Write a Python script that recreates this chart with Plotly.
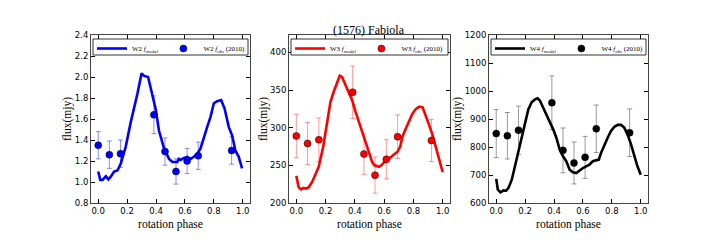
import plotly.graph_objects as go

# ---------------- data ----------------
obs_phase = [0.0, 0.077, 0.154, 0.385, 0.462, 0.538, 0.615, 0.692, 0.923]

w2_obs = [1.35, 1.26, 1.27, 1.64, 1.29, 1.10, 1.20, 1.25, 1.30]
w2_err = [0.13, 0.13, 0.13, 0.18, 0.13, 0.12, 0.12, 0.13, 0.13]
w3_obs = [289, 279, 284, 347, 265, 237, 258, 288, 283]
w3_err = [29, 28, 29, 35, 27, 24, 26, 29, 28]
w4_obs = [848, 840, 860, 958, 788, 743, 763, 865, 851]
w4_err = [86, 83, 86, 96, 80, 75, 75, 85, 85]

w2_model_phase = [0.0, 0.014, 0.03, 0.053, 0.07, 0.087, 0.11, 0.133, 0.156, 0.19, 0.225,
                  0.248, 0.271, 0.30, 0.317, 0.345, 0.375, 0.398, 0.42, 0.455, 0.49,
                  0.513, 0.547, 0.558, 0.57, 0.593, 0.616, 0.639, 0.662, 0.685, 0.708,
                  0.731, 0.754, 0.777, 0.80, 0.823, 0.85, 0.874, 0.903, 0.926, 0.949,
                  0.972, 0.995]
w2_model = [1.10, 1.02, 1.02, 1.055, 1.025, 1.05, 1.10, 1.11, 1.175, 1.335, 1.57,
            1.70, 1.84, 2.035, 2.01, 2.00, 1.84, 1.69, 1.49, 1.32, 1.22,
            1.19, 1.19, 1.22, 1.21, 1.23, 1.24, 1.22, 1.24, 1.27, 1.32,
            1.43, 1.525, 1.62, 1.75, 1.77, 1.78, 1.70, 1.525, 1.445, 1.30,
            1.24, 1.13]

w3_model_phase = [0.0, 0.016, 0.034, 0.05, 0.066, 0.085, 0.108, 0.13, 0.153, 0.183,
                  0.21, 0.233, 0.256, 0.279, 0.297, 0.313, 0.336, 0.359, 0.382, 0.405,
                  0.428, 0.451, 0.474, 0.497, 0.519, 0.535, 0.554, 0.565, 0.581, 0.6,
                  0.622, 0.645, 0.668, 0.691, 0.71, 0.725, 0.748, 0.771, 0.794, 0.817,
                  0.84, 0.863, 0.886, 0.908, 0.931, 0.954, 0.977, 1.0]
w3_model = [236, 221, 218, 220, 219, 221, 228, 238, 248, 274,
            310, 334, 348, 361, 369, 367, 356, 347, 336, 321,
            308, 292, 279, 266, 254, 250, 249, 248, 250, 254,
            257, 261, 265, 268, 275, 288, 299, 308, 319, 325,
            328, 327, 316, 303, 290, 274, 257, 241]

w4_model_phase = [0.0, 0.011, 0.03, 0.05, 0.069, 0.085, 0.108, 0.13, 0.153, 0.176,
                  0.2, 0.222, 0.245, 0.268, 0.286, 0.302, 0.325, 0.348, 0.37, 0.394,
                  0.416, 0.439, 0.462, 0.485, 0.508, 0.531, 0.554, 0.577, 0.6, 0.622,
                  0.645, 0.668, 0.691, 0.71, 0.725, 0.748, 0.771, 0.794, 0.817, 0.84,
                  0.863, 0.886, 0.908, 0.931, 0.954, 0.977, 1.0]
w4_model = [686, 648, 638, 645, 644, 654, 684, 731, 791, 839,
            886, 934, 960, 970, 974, 966, 940, 916, 892, 863,
            833, 791, 767, 749, 719, 710, 707, 717, 725, 731,
            737, 749, 752, 755, 779, 809, 833, 857, 872, 879,
            879, 869, 845, 812, 767, 731, 701]

bands = ["W2", "W3", "W4"]
title_text = "(1576) Fabiola"
x_label = "rotation phase"
y_label = "flux(mjy)"

# ---------------- layout helpers ----------------
W, H = 720, 240
x_px = [(91, 250), (289, 450), (489, 648)]
y_top, y_bot = 35, 203
ydom = [1 - y_bot / H, 1 - y_top / H]
yranges = [[0.8, 2.4], [200, 423], [600, 1200]]
ydticks = [0.2, 50, 100]
yfmt = [".1f", "d", "d"]

colors = ["#0000ff", "#ff0000", "#000000"]
err_colors = ["rgba(0,0,255,0.45)", "rgba(255,0,0,0.4)", "rgba(0,0,0,0.4)"]

model_phases = [w2_model_phase, w3_model_phase, w4_model_phase]
models = [w2_model, w3_model, w4_model]
obs = [w2_obs, w3_obs, w4_obs]
errs = [w2_err, w3_err, w4_err]

serif = "Liberation Serif, Times New Roman, serif"
sans = "DejaVu Sans, sans-serif"

fig = go.Figure()
legend_names = ["legend", "legend2", "legend3"]

for i in range(3):
    ax = "" if i == 0 else str(i + 1)
    fig.add_trace(go.Scatter(
        x=model_phases[i], y=models[i], mode="lines",
        line=dict(color=colors[i], width=2.6),
        name=f"{bands[i]} <i>f<sub>model</sub></i>",
        xaxis="x" + ax, yaxis="y" + ax, legend=legend_names[i]))
    fig.add_trace(go.Scatter(
        x=obs_phase, y=obs[i], mode="markers",
        marker=dict(color=colors[i], size=7, line=dict(color="black", width=0.5)),
        error_y=dict(type="data", array=errs[i], color=err_colors[i], thickness=1, width=2.5),
        name=f"{bands[i]} <i>f<sub>obs</sub></i> (2010)",
        xaxis="x" + ax, yaxis="y" + ax, legend=legend_names[i]))

layout = dict(
    width=W, height=H,
    margin=dict(l=0, r=0, t=0, b=0, autoexpand=False),
    paper_bgcolor="white", plot_bgcolor="white",
    showlegend=True,
)

shapes = []
for i in range(3):
    ax = "" if i == 0 else str(i + 1)
    x0, x1 = x_px[i]
    layout["xaxis" + ax] = dict(
        domain=[x0 / W, x1 / W], range=[-0.05, 1.05], anchor="y" + ax,
        tick0=0, dtick=0.2, tickformat=".1f",
        ticks="inside", ticklen=4, tickcolor="black", tickwidth=1,
        showline=True, linecolor="#444", linewidth=1, mirror="ticks",
        showgrid=False, zeroline=False,
        tickfont=dict(family=sans, size=8.5, color="black"),
        title=dict(text=x_label, font=dict(family=serif, size=11.5, color="black"), standoff=4),
    )
    layout["yaxis" + ax] = dict(
        domain=ydom, range=yranges[i], anchor="x" + ax,
        dtick=ydticks[i], tickformat=yfmt[i],
        ticks="inside", ticklen=4, tickcolor="black", tickwidth=1,
        showline=True, linecolor="#444", linewidth=1, mirror="ticks",
        showgrid=False, zeroline=False,
        tickfont=dict(family=sans, size=8.5, color="black"),
        title=dict(text=y_label, font=dict(family=serif, size=11.5, color="black"), standoff=0),
    )
    layout[legend_names[i]] = dict(
        x=(x0 + 1) / W, y=1 - (y_top - 1) / H, xanchor="left", yanchor="top",
        orientation="h", borderwidth=0, bgcolor="rgba(0,0,0,0)",
        font=dict(family=serif, size=7, color="black"),
        itemwidth=30,
    )
    # legend frame (matplotlib-style box inside the axes)
    shapes.append(dict(
        type="rect", xref="paper", yref="paper", layer="above",
        x0=(x0 + 2) / W, x1=(x1 - 2) / W,
        y0=1 - (y_top + 20) / H, y1=1 - (y_top + 4) / H,
        line=dict(color="#333", width=1), fillcolor="white",
    ))

layout["shapes"] = shapes
fig.update_layout(**layout)
fig.add_annotation(
    text=title_text, x=(x_px[1][0] + x_px[1][1]) / 2 / W, y=1 - 30 / H,
    xref="paper", yref="paper", showarrow=False, xanchor="center", yanchor="middle",
    font=dict(family=serif, size=12, color="black"))

fig.write_html(
    "out.html",
    config={"displayModeBar": False},
    post_script="document.body.style.margin='0';document.body.style.overflow='hidden';",
)
